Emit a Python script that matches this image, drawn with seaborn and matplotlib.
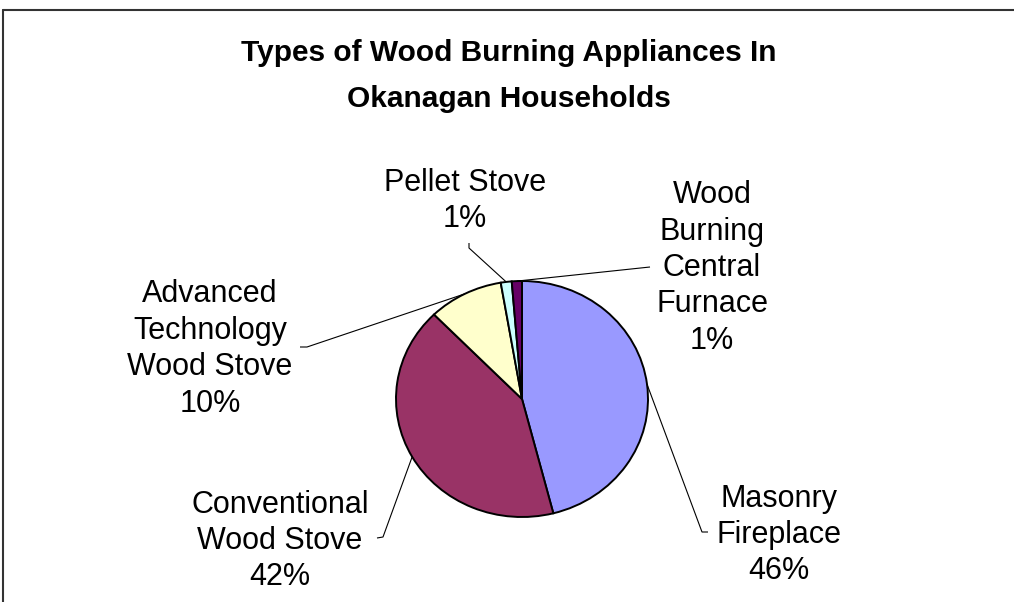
"""
Pie chart of wood burning appliance types in Okanagan households.
"""

import matplotlib
matplotlib.use("Agg")
import matplotlib.pyplot as plt
from matplotlib.lines import Line2D
import numpy as np
import seaborn as sns

TITLE = "Types of Wood Burning Appliances In\nOkanagan Households"

# Slice data, clockwise from 12 o'clock
CATEGORIES = [
    "Masonry\nFireplace",
    "Conventional\nWood Stove",
    "Advanced\nTechnology\nWood Stove",
    "Pellet Stove",
    "Wood\nBurning\nCentral\nFurnace",
]
SHARES = [46.0, 41.7, 9.6, 1.4, 1.3]
COLORS = ["#9999FF", "#993366", "#FFFFCC", "#CCFFFF", "#660066"]

# Layout in figure pixels (origin top-left)
W, H = 1014, 602
CX, CY = 522, 399      # pie centre
RX, RY = 126, 118      # pie radii (slightly elliptical, as in the original)
LABEL_POS = [(779, 535), (280, 541), (210, 349), (465, 201), (712, 268)]
LEADER_ELBOW = [(702, 532), (383, 537), (307, 347), (469, 248), (650, 267)]
LEADER_END = [(708, 532), (377, 538), (300, 347), (469, 243), (650, 267)]


def px(x, y):
    """Figure pixel -> data coords of the pie axes."""
    return (x - CX) / RX, (CY - y) / RY


def main() -> None:
    sns.set_theme(style="white")
    plt.rcParams["font.family"] = ["Liberation Sans", "DejaVu Sans"]

    fig = plt.figure(figsize=(W / 100, H / 100), dpi=100)
    fig.patch.set_facecolor("white")
    ax = fig.add_axes([0, 0, 1, 1])

    wedges, _ = ax.pie(
        SHARES,
        colors=COLORS,
        startangle=90,
        counterclock=False,
        radius=1,
        wedgeprops={"edgecolor": "black", "linewidth": 1.4},
    )
    ax.set_aspect("auto")
    ax.set_xlim(-CX / RX, (W - CX) / RX)
    ax.set_ylim(-(H - CY) / RY, CY / RY)
    ax.axis("off")

    total = sum(SHARES)
    for i, w in enumerate(wedges):
        mid = np.deg2rad((w.theta1 + w.theta2) / 2)
        x0, y0 = np.cos(mid), np.sin(mid)
        ex, ey = px(*LEADER_ELBOW[i])
        fx, fy = px(*LEADER_END[i])
        ax.plot([x0, ex, fx], [y0, ey, fy], color="black", linewidth=0.8,
                solid_capstyle="butt")
        lx, ly = px(*LABEL_POS[i])
        ax.text(lx, ly, f"{CATEGORIES[i]}\n{SHARES[i] / total * 100:.0f}%",
                ha="center", va="center", fontsize=22, linespacing=1.28,
                color="black")

    fig.text(509 / W, 1 - 76 / H, TITLE, ha="center", va="center",
             fontsize=21.5, fontweight="bold", linespacing=1.78, color="black")

    # Chart area border (only top and left edges are visible in the crop)
    fig.add_artist(Line2D([3 / W, 1], [1 - 10 / H, 1 - 10 / H],
                          transform=fig.transFigure, color="#333333", linewidth=1.5))
    fig.add_artist(Line2D([3 / W, 3 / W], [0, 1 - 10 / H],
                          transform=fig.transFigure, color="#333333", linewidth=1.5))

    fig.savefig("out.png", dpi=100)
    plt.close(fig)


if __name__ == "__main__":
    main()
